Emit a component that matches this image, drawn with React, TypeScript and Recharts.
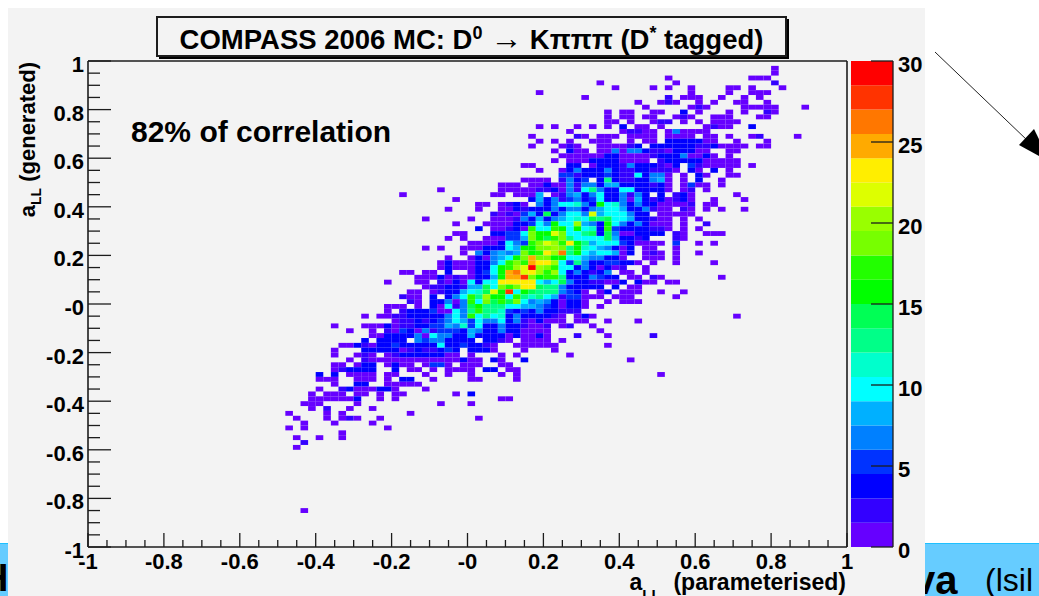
import { ScatterChart, Scatter, XAxis, YAxis, ReferenceLine, BarChart, Bar } from 'recharts';

const FONT = '"Liberation Sans", Arial, sans-serif';
const INK = '#1c1c1c';
const PANEL = '#f3f3f3';

// colour bar, bottom to top, one band = 1.5 entries
const palette = [
  '#6600ff', '#3300ff', '#0000ff', '#0033ff', '#0080ff', '#00b0ff', '#00ffff', '#00ffcc', '#00ff88', '#00ff55',
  '#00ff00', '#22ff00', '#77ff00', '#99ff00', '#ddff00', '#ffee00', '#ffaa00', '#ff7700', '#ff3300', '#ff0000',
];
const bandHeight = 1.5;
const barTicks = [0, 5, 10, 15, 20, 25, 30];

const majorTicks = [-1, -0.8, -0.6, -0.4, -0.2, 0, 0.2, 0.4, 0.6, 0.8, 1];
const majorLabels = ['-1', '-0.8', '-0.6', '-0.4', '-0.2', '-0', '0.2', '0.4', '0.6', '0.8', '1'];
const minorTicks = [
  -0.95, -0.9, -0.85, -0.75, -0.7, -0.65, -0.55, -0.5, -0.45, -0.35, -0.3, -0.25, -0.15, -0.1, -0.05,
  0.05, 0.1, 0.15, 0.25, 0.3, 0.35, 0.45, 0.5, 0.55, 0.65, 0.7, 0.75, 0.85, 0.9, 0.95,
];

// 100 x 100 bins over [-1, 1]
const binCount = 100;
const binStep = 0.02;

// y bin of each row below, then "first x bin:counts" runs, counts in base 36
const rowBins = [
  98, 97, 96, 95, 94, 93, 92, 91, 90, 89, 88, 87, 86, 85, 84, 83, 82, 81, 80, 79, 78, 77, 76, 75, 74, 73, 72, 71, 70,
  69, 68, 67, 66, 65, 64, 63, 62, 61, 60, 59, 58, 57, 56, 55, 54, 53, 52, 51, 50, 49, 48, 47, 46, 45, 44, 43, 42, 41,
  40, 39, 38, 37, 36, 35, 34, 33, 32, 31, 30, 29, 28, 27, 26, 25, 24, 23, 22, 21, 20, 7,
];
const rowCounts = [
  '90:1',
  '90:1',
  '76:1 87:111',
  '67:1 77:1 90:2',
  '69:1 74:1 76:1 79:1 84:11 87:1 91:1',
  '59:1 79:1 84:1 87:111',
  '65:1 76:2 78:111 83:1 86:1 88:1',
  '72:1 75:121 80:1 82:1 85:11 89:1',
  '73:1 79:121 86:1111 90:1 94:1',
  '68:1 70:11 74:11 78:3 80:1 84:1 86:1 89:21',
  '68:1 70:11 73:11 77:121 82:111 88:11',
  '68:11 71:1 74:1 75:22 78:1 80:1 82:1111',
  '59:1 61:1 64:1 66:1 68:1 70:3 72:11 75:1 81:1211 87:3',
  '63:1 70:12 72:2 73:11 76:1 77:6 78:111 81:1',
  '58:1 64:21 67:111 71:11 73:11 76:1111 81:11 84:1 87:12 93:1',
  '59:1 61:1 63:1 66:111 71:1 73:11 76:33333 81:11 85:1 89:1',
  '58:1 62:121 67:1111 71:23 74:3333 78:33 80:223 83:1111 88:11',
  '61:1 63:31 65:1 67:11 69:6 70:1 71:66 73:3 74:2 75:2 76:1 77:3 78:33 80:11 84:11',
  '62:111111 68:33 70:1111 74:2 75:333 78:6 79:11 81:3 82:1 84:1',
  '61:1 63:111 66:3333 70:1111 75:2 76:3333 80:3 81:11111',
  '57:11 63:33 66:1 67:333 70:2 71:6 72:333 75:2 76:1 77:3 79:5 80:2 81:1 82:11 84:11 87:1',
  '59:1 62:1 63:3 64:6 65:333 68:6 69:3 70:22 72:33 74:222 77:1 79:3 80:1 82:3 84:1',
  '62:55 64:2 65:333 68:5 69:3 70:22 72:a 73:3 74:66 76:1 78:1 80:3 81:1 84:11',
  '57:1111 62:2 63:6 64:3 65:5 67:3 68:c 69:3 70:22 72:3 73:3 74:68 76:1 78:1 80:3 83:1',
  '54:111 58:111 60:3 61:1 62:1 63:6 64:2 65:6 66:6 67:3 68:88 70:33 72:33 74:2 75:3 76:1 78:1 79:5 80:11 83:1',
  '46:1 54:11111 59:22 61:3 62:1 63:6 64:2 65:a 66:c 67:6 68:33 70:aa 72:33 74:3 75:3 76:1 78:1 79:2 81:1',
  '41:1 53:11 56:111 59:8 61:1 62:2 63:6 64:8 65:3 66:6 67:a 68:33 70:6 71:2 72:6 73:3 75:3 77:2 78:3 79:1 85:1',
  '48:1 58:3 59:8 60:3 61:6 62:2 63:5 64:6 65:3 66:5 67:a 68:33 70:6 71:1 72:8 73:3 74:2 75:3 76:1 77:2 78:3 79:1 82:1 86:1',
  '51:11 54:1 55:2 56:3 57:1 59:6 60:3 61:6 62:a 63:a 64:b 65:6 66:3 67:f 68:a 69:b 70:6 71:3 72:6 73:3 74:3 75:1 76:1 77:1 78:1 79:2 81:11',
  '47:1 51:1 54:1 55:1 56:3 57:2 58:3 59:3 60:3 61:6 62:3 63:6 64:6 65:3 66:6 67:8 68:a 69:a 70:8 71:3 72:3 73:6 74:2 75:1 76:1 78:2 79:1 81:1 83:1 86:1',
  '53:2 54:1 55:2 56:1 57:5 58:8 59:3 60:e 61:3 62:6 63:a 64:a 65:6 66:l 67:8 68:a 69:a 70:a 71:6 72:3 73:3 75:1 76:1 77:1 78:1 79:1',
  '44:1 50:1 53:1 54:1 55:1 56:2 57:6 58:3 59:8 60:3 61:6 62:8 63:a 64:b 65:a 66:e 67:c 68:e 69:a 70:a 71:8 72:3 73:3 74:2 75:1 76:1 78:1 80:1',
  '48:1 52:1 53:1 54:1 55:1 56:3 57:3 58:5 59:a 60:6 61:f 62:a 63:a 64:k 65:8 66:6 67:3 68:f 69:a 70:6 71:3 72:6 73:3 74:1 75:1 76:1 78:1 81:2',
  '51:3 53:1 54:1 55:2 56:3 57:1 58:h 59:a 60:a 61:h 62:f 63:a 64:f 65:a 66:b 67:3 68:h 69:5 70:3 71:3 72:3 73:3 74:2 75:2 76:1 78:1 80:1',
  '48:11 53:3 54:3 55:5 56:5 57:a 58:i 59:f 60:f 61:l 62:i 63:a 64:a 65:c 66:e 67:3 68:e 69:6 70:1 71:1 72:3 73:3 74:3 75:3 77:2 78:1 81:111',
  '47:1 49:1 52:1 53:1 54:1 55:5 56:5 57:8 58:i 59:f 60:e 61:h 62:i 63:c 64:a 65:a 66:a 67:a 68:e 69:8 70:3 71:3 72:2 73:3 77:2 78:1',
  '50:111 53:1 54:3 55:a 56:6 57:5 58:h 59:i 60:l 61:k 62:h 63:n 64:f 65:c 66:8 67:a 68:a 69:a 70:5 71:3 72:1 73:1 74:1 75:1 77:5 80:1 82:1',
  '44:1 46:1 49:1 50:1 51:1 52:3 53:3 54:3 55:a 56:8 57:f 58:f 59:i 60:i 61:k 62:i 63:c 64:f 65:b 66:a 67:8 68:6 69:3 70:1 71:3 73:11 77:1',
  '49:1 51:6 52:3 53:6 54:8 55:6 56:8 57:i 58:f 59:h 60:n 61:k 62:q 63:c 64:f 65:a 66:8 67:a 68:a 69:8 70:1 71:3 73:121 77:1 80:1',
  '47:1 50:1 51:3 52:1 53:6 54:8 55:a 56:f 57:i 58:o 59:i 60:i 61:f 62:f 63:a 64:a 65:8 66:66 68:33 70:1 73:111 77:1',
  '46:1 47:3 48:1 49:1 50:1 51:3 52:3 53:6 54:a 55:h 56:i 57:h 58:o 59:n 60:n 61:k 62:a 63:5 64:c 65:6 66:3 67:3 68:5 69:5 70:33 72:1 74:1 77:1 82:1',
  '46:1 47:3 48:1 49:1 50:1 51:3 52:3 53:a 54:f 55:h 56:k 57:l 58:t 59:k 60:i 61:h 62:a 63:a 64:3 65:6 66:3 67:1 68:3 69:1 70:2 73:1',
  '41:11 44:11 47:3 50:1 51:3 52:5 53:a 54:f 55:o 56:q 57:l 58:n 59:k 60:h 61:k 62:a 63:3 64:6 65:3 66:2 67:3 68:6 70:11 73:1',
  '43:11 45:1 46:3 47:1 48:2 49:1 50:1 51:3 52:3 53:8 54:f 55:o 56:o 57:r 58:i 59:f 60:h 61:h 62:c 63:33 65:3 66:6 67:5 68:33 71:1 72:1 74:2 75:1 83:1',
  '39:1 43:11 46:2 47:1 48:3 49:1 50:a 51:3 52:a 53:a 54:n 55:n 56:n 57:n 58:n 59:a 60:8 61:a 62:e 63:6 64:33 66:22 68:11 70:3 72:3 73:11 76:11',
  '44:1 45:2 46:2 47:3 48:3 49:2 50:8 51:8 52:e 53:a 54:i 55:h 56:i 57:n 58:n 59:e 60:c 61:c 62:6 63:33 65:33 67:3 69:3 71:11',
  '42:11 45:1 46:2 47:3 48:3 49:8 50:a 51:b 52:e 53:l 54:f 55:r 56:a 57:f 58:e 59:c 60:c 61:c 62:6 63:5 64:3 65:1 67:1 68:3 70:111 75:1 78:1',
  '41:2 42:11 45:3 47:3 48:6 49:a 50:h 51:c 52:k 53:f 54:f 55:a 56:h 57:c 58:b 59:c 60:a 61:8 62:2 63:55 65:1 66:11 69:11 71:1 77:1',
  '42:2 43:1 45:3 46:3 47:6 48:1 49:6 50:h 51:a 52:i 53:e 54:h 55:e 56:i 57:a 58:6 59:8 60:6 61:3 62:1 63:33 65:1 68:1 70:111',
  '39:111 43:1 45:3 46:1 47:a 48:2 49:6 50:e 51:f 52:c 53:c 54:c 55:a 56:a 57:8 58:8 59:6 60:5 61:3 62:1 63:33 65:1 67:1',
  '39:1 41:2 42:333 45:5 46:1 47:1 48:a 49:6 50:c 51:h 52:c 53:c 54:b 55:5 56:3 57:5 58:3 59:6 60:3 61:3 62:2 63:22',
  '36:1 38:11 40:2 41:2 42:333 45:3 46:3 47:6 48:a 49:6 50:h 51:a 52:c 53:a 54:b 55:3 56:6 57:3 58:3 59:3 60:3 61:2 62:1 64:1 65:3 66:1 85:1',
  '40:1 41:2 42:2 43:3 44:2 45:3 46:5 47:6 48:a 49:8 50:5 51:a 52:6 53:6 54:a 55:3 56:6 57:2 58:1 59:3 60:1 61:1 62:1 64:11 68:1 72:1',
  '32:1 36:111 39:3 40:1 41:2 42:2 43:3 44:3 45:5 46:5 47:8 48:6 49:b 50:5 51:a 52:3 53:3 54:6 55:3 56:3 57:2 58:1 59:1 60:2 62:1 63:2 66:1',
  '34:1 37:1 39:2 40:1 41:5 42:3 43:1 44:6 45:2 46:5 47:5 48:5 49:3 50:8 51:6 52:3 53:3 54:6 55:3 56:3 57:1 58:1 59:1 60:1 67:1',
  '37:11 39:3 40:3 41:3 42:3 43:6 44:1 45:a 46:6 47:6 48:3 49:3 50:8 51:3 52:3 53:3 54:3 55:1 56:3 57:1 58:1 59:3 60:1 64:2 68:1 74:2',
  '36:3 38:3 39:3 40:3 41:3 43:6 44:5 45:6 46:6 47:3 48:3 49:3 50:3 52:3 53:3 54:2 55:1 57:1 58:1 59:1 60:1 62:1',
  '33:1 34:1 35:3 36:2 37:1 38:3 39:3 40:5 41:3 42:3 43:3 44:3 45:3 46:a 47:3 48:3 49:5 50:3 51:3 52:2 53:1 56:1 57:1 58:1 59:1 60:1 61:1 68:1',
  '32:1 36:3 37:3 38:3 39:3 40:3 41:1 42:2 43:3 44:2 45:2 46:3 47:5 48:3 50:3 51:3 52:3 53:1 57:1 61:1',
  '32:1 35:1 36:2 37:1 39:1 40:2 41:3 42:3 43:3 44:3 45:3 46:3 47:1 48:1 50:1 54:1 56:1 63:1',
  '34:1 36:2 37:1 38:1 39:1 40:1 41:1 42:1 43:1 44:1 45:1 46:1 47:1 48:1 49:3 50:11 53:3 54:1 57:3 71:1',
  '32:11 35:1 36:33 39:1 40:3 41:11 44:1 45:5 46:5 47:1 49:111 54:11',
  '32:123 35:33 37:3 40:3 42:11 45:1 47:1111 52:33 55:11',
  '30:3 32:3 34:1111 39:11 44:1 47:1 50:1 54:1 56:1 75:1',
  '30:111 35:111 39:1 41:33 45:1 50:11 56:1',
  '32:1 35:33 39:1 40:1111',
  '30:1 33:23 35:111 38:33 40:1 44:1',
  '29:1 31:111 35:11 38:1 40:11 48:1 50:3',
  '29:11 31:1111 35:3 38:1 40:1 54:11',
  '28:111 35:1 46:1 50:1',
  '29:1 31:2 34:1 37:1',
  '26:1 31:1 33:1 42:1',
  '27:1 31:1 33:121 38:1 51:1',
  '28:1 32:1 37:1',
  '26:1 28:1 39:1',
  '33:1',
  '27:1 30:1 33:1',
  '28:2',
  '27:1',
  '28:1',
];

// the table the scatter series reads: centre of each filled bin
const cells = rowBins.flatMap((bin, i) =>
  rowCounts[i].split(' ').flatMap((run) => {
    const [first, counts] = run.split(':');
    return counts.split('').map((c, k) => ({
      x: -1 + (Number(first) + k + 0.5) * binStep,
      y: -1 + (bin + 0.5) * binStep,
      n: parseInt(c, 36),
    }));
  }),
);

const barRow = [Object.fromEntries(palette.map((_, i) => [`band${i}`, bandHeight]))];

const W = 1039;
const H = 596;
const plotLeft = 88;
const plotTop = 61;
const plotRight = 847;
const plotBottom = 547;
const cellW = (plotRight - plotLeft) / binCount;
const cellH = (plotBottom - plotTop) / binCount;

const colourFor = (n: number) => palette[Math.min(palette.length - 1, Math.floor(n / bandHeight))];

function Cell(props: any) {
  const { cx, cy, payload } = props;
  return <rect x={cx - cellW / 2} y={cy - cellH / 2} width={cellW} height={cellH} fill={colourFor(payload.n)} />;
}

const labelFor = (v: number) => {
  const i = majorTicks.findIndex((t) => Math.abs(t - v) < 1e-6);
  return i >= 0 ? majorLabels[i] : null;
};

function XTick(props: any) {
  const { x, y, payload } = props;
  const label = labelFor(payload.value);
  return (
    <g>
      <line x1={x} x2={x} y1={plotBottom} y2={plotBottom - (label ? 14 : 7)} stroke={INK} strokeWidth={1.3} />
      {label && (
        <text x={x} y={y + 22} textAnchor="middle" fontFamily={FONT} fontWeight="bold" fontSize={22} fill="#000">
          {label}
        </text>
      )}
    </g>
  );
}

function YTick(props: any) {
  const { x, y, payload } = props;
  const label = labelFor(payload.value);
  return (
    <g>
      <line x1={plotLeft} x2={plotLeft + (label ? 23 : 12)} y1={y} y2={y} stroke={INK} strokeWidth={1.3} />
      {label && (
        <text x={plotLeft - 4} y={y + 11} textAnchor="end" fontFamily={FONT} fontWeight="bold" fontSize={22} fill="#000">
          {label}
        </text>
      )}
    </g>
  );
}

function BarTick(props: any) {
  const { x, y, payload } = props;
  return (
    <g>
      <line x1={x} x2={x - 22} y1={y} y2={y} stroke={INK} strokeWidth={1.3} />
      <text x={x + 5} y={y + 11} fontFamily={FONT} fontWeight="bold" fontSize={22} fill="#000">
        {payload.value}
      </text>
    </g>
  );
}

export default function App() {
  return (
    <div style={{ position: 'fixed', left: 0, top: 0, width: W, height: H, overflow: 'hidden', background: '#fff', fontFamily: FONT }}>
      {/* slide behind the plot */}
      <div style={{ position: 'absolute', left: 0, top: 543, width: W, height: 53, background: '#66ccff', borderTop: '1px solid #1ec0ff', boxSizing: 'border-box' }} />
      <div style={{ position: 'absolute', left: -19, top: 557, fontSize: 38, fontWeight: 'bold', color: '#000' }}>H</div>
      <div style={{ position: 'absolute', left: 913, top: 558, fontSize: 40, fontWeight: 'bold', color: '#000', whiteSpace: 'nowrap' }}>va</div>
      <div style={{ position: 'absolute', left: 985, top: 562, fontSize: 32, color: '#000', whiteSpace: 'nowrap' }}>(lsil</div>
      <div style={{ position: 'absolute', left: 8, top: 8, width: 917, height: 588, background: PANEL }} />

      <div style={{ position: 'absolute', left: 0, top: 0 }}>
        <ScatterChart width={W} height={H} margin={{ left: 8, top: plotTop, right: W - plotRight, bottom: H - plotBottom - 40 }}>
          <XAxis
            type="number"
            dataKey="x"
            domain={[-1, 1]}
            ticks={[...majorTicks, ...minorTicks]}
            interval={0}
            height={40}
            tickSize={0}
            tickMargin={0}
            tick={XTick}
            axisLine={{ stroke: INK, strokeWidth: 1.6 }}
            allowDataOverflow
          />
          <YAxis
            type="number"
            dataKey="y"
            domain={[-1, 1]}
            ticks={[...majorTicks, ...minorTicks]}
            interval={0}
            width={80}
            tickSize={0}
            tickMargin={0}
            tick={YTick}
            axisLine={{ stroke: INK, strokeWidth: 1.6 }}
            allowDataOverflow
          />
          <ReferenceLine y={1} stroke={INK} strokeWidth={1.6} />
          <ReferenceLine x={1} stroke={INK} strokeWidth={1.6} />
          <Scatter data={cells} shape={Cell} isAnimationActive={false} />
        </ScatterChart>
      </div>

      <div style={{ position: 'absolute', left: 851, top: 0 }}>
        <BarChart width={100} height={H} data={barRow} barCategoryGap={0} margin={{ left: 0, right: 0, top: plotTop, bottom: H - plotBottom }}>
          <XAxis hide />
          <YAxis
            orientation="right"
            domain={[0, 30]}
            ticks={barTicks}
            interval={0}
            width={58}
            tickSize={0}
            tickMargin={0}
            tick={BarTick}
            axisLine={{ stroke: INK, strokeWidth: 1.3 }}
          />
          {palette.map((c, i) => (
            <Bar key={c} dataKey={`band${i}`} stackId="z" fill={c} isAnimationActive={false} />
          ))}
        </BarChart>
      </div>

      {/* title box with its drop shadow */}
      <div style={{ position: 'absolute', left: 159, top: 19, width: 630, height: 40, background: '#000' }} />
      <div
        style={{
          position: 'absolute', left: 156, top: 16, width: 631, height: 41, boxSizing: 'border-box', background: PANEL,
          border: `2px solid ${INK}`, textAlign: 'center', lineHeight: '44px',
          fontSize: 27.5, fontWeight: 'bold', color: '#000', whiteSpace: 'nowrap',
        }}
      >
        COMPASS 2006 MC: D<sup style={{ fontSize: 18, lineHeight: 0 }}>0</sup> <span style={{ fontSize: 32, fontWeight: 'normal', lineHeight: 0 }}>→</span> Kπππ (D<sup style={{ fontSize: 18, lineHeight: 0 }}>*</sup> tagged)
      </div>

      <div style={{ position: 'absolute', left: 131, top: 115, fontSize: 30, fontWeight: 'bold', color: '#000', whiteSpace: 'nowrap' }}>
        82% of correlation
      </div>

      <svg width={W} height={H} style={{ position: 'absolute', left: 0, top: 0, pointerEvents: 'none' }}>
        <text transform="rotate(-90 35 62)" x={35} y={62} textAnchor="end" fontFamily={FONT} fontWeight="bold" fontSize={22} fill="#000">
          a<tspan fontSize={14} dy={6}>LL</tspan>
          <tspan dy={-6}> (generated)</tspan>
        </text>
        <text x={846} y={590} textAnchor="end" fontFamily={FONT} fontWeight="bold" fontSize={23} fill="#000">
          a<tspan fontSize={15} dy={10}>LL</tspan>
          <tspan dy={-10} xmlSpace="preserve">{'  (parameterised)'}</tspan>
        </text>
        <line x1={935} y1={52} x2={1028} y2={141} stroke="#222" strokeWidth={1} />
        <polygon points="1034,129 1019,145 1050,162" fill="#000" />
      </svg>
    </div>
  );
}
